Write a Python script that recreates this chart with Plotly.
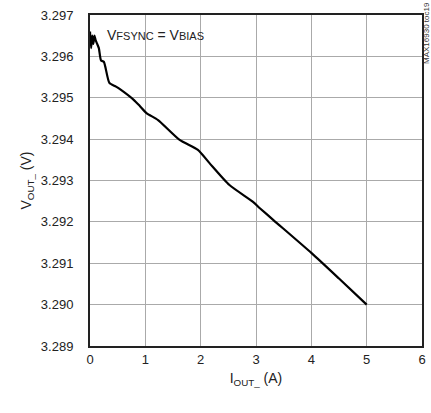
import plotly.graph_objects as go

i_out = [0.0, 0.02, 0.04, 0.06, 0.08, 0.10, 0.13, 0.16, 0.20, 0.25, 0.35, 0.47, 0.56, 0.79,
         0.90, 1.02, 1.23, 1.62, 1.95, 2.16, 2.52, 2.94, 3.07, 3.31, 4.0, 4.5, 5.0]
v_out = [3.2966, 3.2962, 3.2965, 3.2963, 3.2965, 3.2964, 3.2963, 3.2962, 3.2959, 3.29587, 3.29536, 3.29527, 3.29519, 3.29495,
         3.29480, 3.29463, 3.29446, 3.29398, 3.29374, 3.29342, 3.29289, 3.29249, 3.29233, 3.29205, 3.29125, 3.29063, 3.2900]

x_ticks = [0, 1, 2, 3, 4, 5, 6]
y_ticks = [3.289, 3.290, 3.291, 3.292, 3.293, 3.294, 3.295, 3.296, 3.297]
y_labels = ["%.3f" % v for v in y_ticks]

fig = go.Figure()
fig.add_trace(go.Scatter(x=i_out, y=v_out, mode="lines",
                         line=dict(color="black", width=2.2, shape="spline", smoothing=0.6),
                         showlegend=False, hoverinfo="skip", cliponaxis=False))

font = dict(family="Liberation Sans, Arial, sans-serif", size=13, color="#222")

fig.update_layout(
    width=431, height=413,
    margin=dict(l=90, r=9, t=15, b=67, autoexpand=False),
    paper_bgcolor="white", plot_bgcolor="white",
    font=font,
    xaxis=dict(range=[0, 6], tickvals=x_ticks, showgrid=True, gridcolor="#aaaaaa", gridwidth=1,
               zeroline=False, showline=True, linecolor="#222", linewidth=2, mirror=True,
               ticks="", tickfont=dict(size=13), automargin=False, ticklabeloverflow="allow",
               title=dict(text="I<sub>OUT_</sub> (A)", font=dict(size=14), standoff=8)),
    yaxis=dict(range=[3.289, 3.297], tickvals=y_ticks, ticktext=y_labels, showgrid=True,
               gridcolor="#aaaaaa", gridwidth=1, zeroline=False, showline=True, linecolor="#222",
               linewidth=2, mirror=True, ticks="", tickfont=dict(size=13), ticklabelstandoff=12,
               automargin=False, ticklabeloverflow="allow",
               title=dict(text="V<sub>OUT_</sub> (V)", font=dict(size=14), standoff=6)),
)

fig.add_annotation(xref="paper", yref="paper", x=0.045, y=0.94, xanchor="left", yanchor="middle",
                   text="V<span style='font-size:11px'>FSYNC</span> = V<span style='font-size:11px'>BIAS</span>",
                   showarrow=False, font=dict(size=14, color="#222"))
fig.add_annotation(xref="paper", yref="paper", x=1.0, y=1.0, xanchor="center", yanchor="top",
                   xshift=4, yshift=15, text="MAX16930 toc19", textangle=-90, showarrow=False,
                   font=dict(size=8, color="#333"))

fig.write_html("out.html", config={"displayModeBar": False},
               post_script="document.body.style.margin='0';document.body.style.overflow='hidden';")
